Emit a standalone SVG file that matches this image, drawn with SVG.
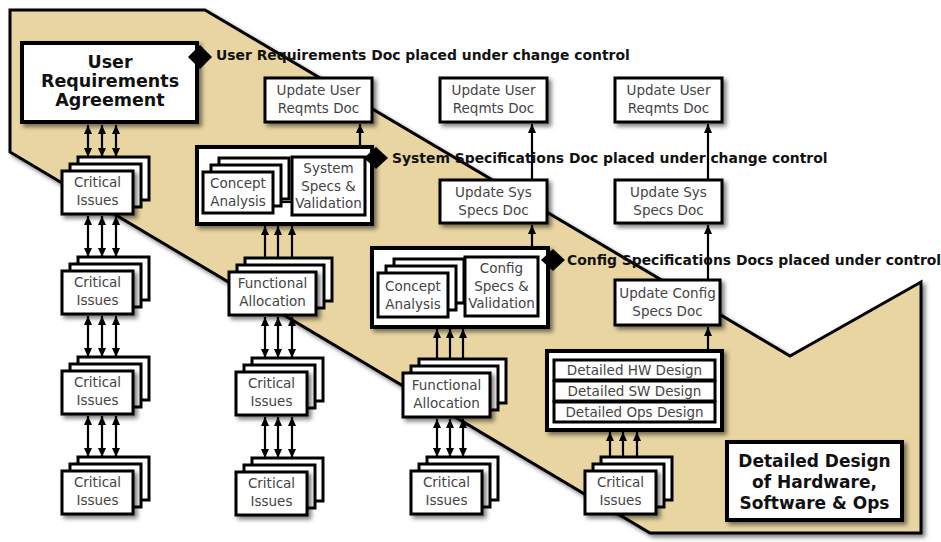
<svg xmlns="http://www.w3.org/2000/svg" width="941" height="542" viewBox="0 0 941 542">
  <defs>
    <filter id="sh" x="-20%" y="-20%" width="150%" height="160%">
      <feDropShadow dx="3" dy="3" stdDeviation="2" flood-color="#000" flood-opacity="0.5"/>
    </filter>
    <marker id="ah" viewBox="0 0 9 8" refX="9" refY="4" markerWidth="9" markerHeight="8" markerUnits="userSpaceOnUse" orient="auto-start-reverse">
      <path d="M0,0 L9,4 L0,8 z" fill="#000"/>
    </marker>
    <style>
      .box { fill: #fff; stroke: #000; stroke-width: 3; }
      .outer { fill: #fff; stroke: #000; stroke-width: 4; filter: url(#sh); }
      .sbox { fill: #fff; stroke: #000; stroke-width: 3; filter: url(#sh); }
      .t { font-family: "DejaVu Sans", Verdana, sans-serif; font-size: 13.5px; fill: #444; text-anchor: middle; }
      .big { font-family: "DejaVu Sans", Verdana, sans-serif; font-weight: bold; fill: #111; text-anchor: middle; }
      .lbl { font-family: "DejaVu Sans", Verdana, sans-serif; font-weight: bold; font-size: 13.9px; fill: #111; }
      .ln { stroke: #000; stroke-width: 2.2; fill: none; }
      .up { marker-end: url(#ah); }
      .dbl { marker-start: url(#ah); marker-end: url(#ah); }
      .dia { fill: #000; }
    </style>
  </defs>

  <rect width="941" height="542" fill="#fff"/>

  <!-- tan phase band -->
  <polygon points="10,10 205,10 790,356 921,282 921,533 650,533 10,152" fill="#E8D5A1" stroke="#000" stroke-width="3" stroke-linejoin="miter" filter="url(#sh)"/>

  <!-- connectors -->
  <g id="connectors">
    <!-- column 1 -->
    <line class="ln dbl" x1="88" y1="125" x2="88" y2="157"/>
    <line class="ln dbl" x1="102" y1="125" x2="102" y2="157"/>
    <line class="ln dbl" x1="116" y1="125" x2="116" y2="157"/>
    <line class="ln dbl" x1="88" y1="216" x2="88" y2="257"/>
    <line class="ln dbl" x1="102" y1="216" x2="102" y2="257"/>
    <line class="ln dbl" x1="116" y1="216" x2="116" y2="257"/>
    <line class="ln dbl" x1="88" y1="316" x2="88" y2="357"/>
    <line class="ln dbl" x1="102" y1="316" x2="102" y2="357"/>
    <line class="ln dbl" x1="116" y1="316" x2="116" y2="357"/>
    <line class="ln dbl" x1="88" y1="416" x2="88" y2="457"/>
    <line class="ln dbl" x1="102" y1="416" x2="102" y2="457"/>
    <line class="ln dbl" x1="116" y1="416" x2="116" y2="457"/>
    <!-- column 2 -->
    <line class="ln up" x1="265" y1="258" x2="265" y2="226"/>
    <line class="ln up" x1="278" y1="258" x2="278" y2="226"/>
    <line class="ln up" x1="292" y1="258" x2="292" y2="226"/>
    <line class="ln dbl" x1="265" y1="317" x2="265" y2="358"/>
    <line class="ln dbl" x1="278" y1="317" x2="278" y2="358"/>
    <line class="ln dbl" x1="292" y1="317" x2="292" y2="358"/>
    <line class="ln dbl" x1="265" y1="417" x2="265" y2="458"/>
    <line class="ln dbl" x1="278" y1="417" x2="278" y2="458"/>
    <line class="ln dbl" x1="292" y1="417" x2="292" y2="458"/>
    <!-- column 3 -->
    <line class="ln up" x1="437" y1="359" x2="437" y2="329"/>
    <line class="ln up" x1="450" y1="359" x2="450" y2="329"/>
    <line class="ln up" x1="463" y1="359" x2="463" y2="329"/>
    <line class="ln dbl" x1="437" y1="419" x2="437" y2="457"/>
    <line class="ln dbl" x1="450" y1="419" x2="450" y2="457"/>
    <line class="ln dbl" x1="463" y1="419" x2="463" y2="457"/>
    <!-- column 4 -->
    <line class="ln up" x1="610" y1="457" x2="610" y2="432"/>
    <line class="ln up" x1="623" y1="457" x2="623" y2="432"/>
    <line class="ln up" x1="637" y1="457" x2="637" y2="432"/>
    <!-- document update chain -->
    <line class="ln up" x1="360" y1="147" x2="360" y2="124"/>
    <line class="ln up" x1="532" y1="248" x2="532" y2="225"/>
    <line class="ln up" x1="532" y1="180" x2="532" y2="124"/>
    <line class="ln up" x1="708" y1="350" x2="708" y2="327"/>
    <line class="ln up" x1="708" y1="280" x2="708" y2="225"/>
    <line class="ln up" x1="708" y1="180" x2="708" y2="124"/>
  </g>

  <!-- baseline agreement -->
  <g id="user-requirements-agreement">
    <rect class="outer" x="22" y="43" width="175" height="79"/>
    <text class="big" font-size="17.5" x="110" y="68">User</text>
    <text class="big" font-size="17.5" x="110" y="87">Requirements</text>
    <text class="big" font-size="17.5" x="110" y="106">Agreement</text>
  </g>

  <g id="ura-control">
    <polygon class="dia" points="200,45 212,57 200,69 188,57"/>
    <text class="lbl" x="216" y="60">User Requirements Doc placed under change control</text>
  </g>

  <!-- column 1 critical issue stacks -->
  <g id="ci-1-1">
    <rect class="box" x="78" y="157" width="71" height="43"/>
    <rect class="box" x="70" y="164" width="71" height="43"/>
    <rect class="sbox" x="62" y="171" width="71" height="43"/>
    <text class="t" x="97.5" y="187">Critical</text>
    <text class="t" x="97.5" y="205">Issues</text>
  </g>
  <g id="ci-1-2">
    <rect class="box" x="78" y="257" width="71" height="43"/>
    <rect class="box" x="70" y="264" width="71" height="43"/>
    <rect class="sbox" x="62" y="271" width="71" height="43"/>
    <text class="t" x="97.5" y="287">Critical</text>
    <text class="t" x="97.5" y="305">Issues</text>
  </g>
  <g id="ci-1-3">
    <rect class="box" x="78" y="357" width="71" height="43"/>
    <rect class="box" x="70" y="364" width="71" height="43"/>
    <rect class="sbox" x="62" y="371" width="71" height="43"/>
    <text class="t" x="97.5" y="387">Critical</text>
    <text class="t" x="97.5" y="405">Issues</text>
  </g>
  <g id="ci-1-4">
    <rect class="box" x="78" y="457" width="71" height="43"/>
    <rect class="box" x="70" y="464" width="71" height="43"/>
    <rect class="sbox" x="62" y="471" width="71" height="43"/>
    <text class="t" x="97.5" y="487">Critical</text>
    <text class="t" x="97.5" y="505">Issues</text>
  </g>

  <!-- system specification stage -->
  <g id="system-stage">
    <rect class="outer" x="197" y="147" width="175" height="77"/>
    <rect class="box" x="219" y="158" width="70" height="41"/>
    <rect class="box" x="211" y="165" width="70" height="41"/>
    <rect class="box" x="203" y="172" width="70" height="41"/>
    <path class="ln" d="M281,202 H292"/>
    <text class="t" x="238" y="188">Concept</text>
    <text class="t" x="238" y="206">Analysis</text>
    <rect class="box" x="292" y="157" width="73" height="58"/>
    <text class="t" x="328.5" y="173">System</text>
    <text class="t" x="328.5" y="191">Specs &amp;</text>
    <text class="t" x="328.5" y="208">Validation</text>
  </g>
  <g id="system-control">
    <polygon class="dia" points="376,147 388,158 376,169 364,158"/>
    <text class="lbl" x="392" y="163">System Specifications Doc placed under change control</text>
  </g>

  <g id="fa-2">
    <rect class="box" x="245" y="258" width="87" height="43"/>
    <rect class="box" x="237" y="265" width="87" height="43"/>
    <rect class="sbox" x="229" y="272" width="87" height="43"/>
    <text class="t" x="272.5" y="288">Functional</text>
    <text class="t" x="272.5" y="306">Allocation</text>
  </g>
  <g id="ci-2-1">
    <rect class="box" x="252" y="358" width="71" height="43"/>
    <rect class="box" x="244" y="365" width="71" height="43"/>
    <rect class="sbox" x="236" y="372" width="71" height="43"/>
    <text class="t" x="271.5" y="388">Critical</text>
    <text class="t" x="271.5" y="406">Issues</text>
  </g>
  <g id="ci-2-2">
    <rect class="box" x="252" y="458" width="71" height="43"/>
    <rect class="box" x="244" y="465" width="71" height="43"/>
    <rect class="sbox" x="236" y="472" width="71" height="43"/>
    <text class="t" x="271.5" y="488">Critical</text>
    <text class="t" x="271.5" y="506">Issues</text>
  </g>

  <!-- configuration specification stage -->
  <g id="config-stage">
    <rect class="outer" x="372" y="248" width="176" height="79"/>
    <rect class="box" x="394" y="259" width="70" height="44"/>
    <rect class="box" x="386" y="266" width="70" height="44"/>
    <rect class="box" x="378" y="273" width="70" height="44"/>
    <path class="ln" d="M456,303 H465"/>
    <text class="t" x="413" y="291">Concept</text>
    <text class="t" x="413" y="309">Analysis</text>
    <rect class="box" x="465" y="257" width="73" height="59"/>
    <text class="t" x="501.5" y="273">Config</text>
    <text class="t" x="501.5" y="291">Specs &amp;</text>
    <text class="t" x="501.5" y="308">Validation</text>
  </g>
  <g id="config-control">
    <polygon class="dia" points="553,249 565,260 553,271 541,260"/>
    <text class="lbl" x="567" y="265">Config Specifications Docs placed under control</text>
  </g>

  <g id="fa-3">
    <rect class="box" x="419" y="359" width="87" height="44"/>
    <rect class="box" x="411" y="366" width="87" height="44"/>
    <rect class="sbox" x="403" y="373" width="87" height="44"/>
    <text class="t" x="446.5" y="390">Functional</text>
    <text class="t" x="446.5" y="408">Allocation</text>
  </g>
  <g id="ci-3-1">
    <rect class="box" x="427" y="457" width="71" height="43"/>
    <rect class="box" x="419" y="464" width="71" height="43"/>
    <rect class="sbox" x="411" y="471" width="71" height="43"/>
    <text class="t" x="446.5" y="487">Critical</text>
    <text class="t" x="446.5" y="505">Issues</text>
  </g>

  <!-- detailed design stage -->
  <g id="detailed-stage">
    <rect class="outer" x="547" y="351" width="175" height="79"/>
    <rect class="box" x="554" y="360" width="161" height="20"/>
    <rect class="box" x="554" y="381" width="161" height="20"/>
    <rect class="box" x="554" y="402" width="161" height="20"/>
    <text class="t" x="634.5" y="375">Detailed HW Design</text>
    <text class="t" x="634.5" y="396">Detailed SW Design</text>
    <text class="t" x="634.5" y="417">Detailed Ops Design</text>
  </g>
  <g id="ci-4-1">
    <rect class="box" x="601" y="457" width="71" height="43"/>
    <rect class="box" x="593" y="464" width="71" height="43"/>
    <rect class="sbox" x="585" y="471" width="71" height="43"/>
    <text class="t" x="620.5" y="487">Critical</text>
    <text class="t" x="620.5" y="505">Issues</text>
  </g>

  <!-- document update boxes -->
  <g id="uu-1">
    <rect class="sbox" x="265" y="78" width="107" height="44"/>
    <text class="t" x="318.5" y="95">Update User</text>
    <text class="t" x="318.5" y="113">Reqmts Doc</text>
  </g>
  <g id="uu-2">
    <rect class="sbox" x="440" y="78" width="107" height="44"/>
    <text class="t" x="493.5" y="95">Update User</text>
    <text class="t" x="493.5" y="113">Reqmts Doc</text>
  </g>
  <g id="uu-3">
    <rect class="sbox" x="615" y="78" width="107" height="44"/>
    <text class="t" x="668.5" y="95">Update User</text>
    <text class="t" x="668.5" y="113">Reqmts Doc</text>
  </g>
  <g id="us-2">
    <rect class="sbox" x="440" y="180" width="107" height="43"/>
    <text class="t" x="493.5" y="197">Update Sys</text>
    <text class="t" x="493.5" y="215">Specs Doc</text>
  </g>
  <g id="us-3">
    <rect class="sbox" x="615" y="180" width="107" height="43"/>
    <text class="t" x="668.5" y="197">Update Sys</text>
    <text class="t" x="668.5" y="215">Specs Doc</text>
  </g>
  <g id="uc-3">
    <rect class="sbox" x="615" y="280" width="105" height="45"/>
    <text class="t" x="667.5" y="298">Update Config</text>
    <text class="t" x="667.5" y="316">Specs Doc</text>
  </g>

  <g id="detailed-design-title">
    <rect class="outer" x="727" y="442" width="175" height="78"/>
    <text class="big" font-size="17" x="814.5" y="467">Detailed Design</text>
    <text class="big" font-size="17" x="814.5" y="488">of Hardware,</text>
    <text class="big" font-size="17" x="814.5" y="509">Software &amp; Ops</text>
  </g>
</svg>
